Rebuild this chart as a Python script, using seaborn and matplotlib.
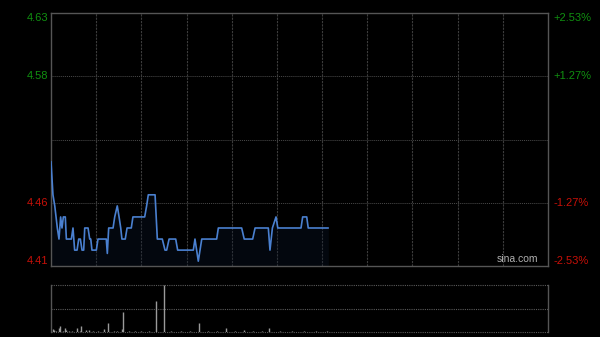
import numpy as np
import pandas as pd
import matplotlib
matplotlib.use("Agg")
import matplotlib.pyplot as plt
import seaborn as sns

# ---------------- data ----------------
prev_close = 4.52
pct_range = 2.53
session_minutes = 330  # HK: 9:30-12:00, 13:00-16:00

price_minutes = [0, 1.3, 2.5, 4.2, 5.3, 6.4, 7.3, 8.2, 9.5, 10.2, 13.5, 14.6, 15.7, 17.3,
                 18.4, 19.5, 20.6, 21.7, 22.4, 24.6, 25.7, 26.4, 27.2, 30.1, 31.2, 36.7,
                 37.4, 38.3, 41.2, 42.3, 44.0, 45.2, 46.3, 47.1, 49.3, 50.5, 53.3, 54.4,
                 62.2, 63.5, 64.6, 69.1, 70.6, 73.9, 75.7, 76.8, 78.4, 82.8, 84.1, 94.5,
                 95.6, 97.8, 100.1, 110.0, 111.1, 126.6, 128.3, 133.9, 135.5, 144.3, 145.4,
                 147.0, 149.4, 150.6, 166.0, 167.1, 169.8, 170.8, 184.1]
prices = [4.50, 4.47, 4.46, 4.44, 4.43, 4.45, 4.44, 4.45, 4.45, 4.43, 4.43, 4.44, 4.42, 4.42,
          4.43, 4.43, 4.42, 4.42, 4.44, 4.44, 4.43, 4.43, 4.42, 4.42, 4.43, 4.43,
          4.417, 4.44, 4.44, 4.45, 4.46, 4.45, 4.44, 4.43, 4.43, 4.44, 4.44, 4.45,
          4.45, 4.46, 4.47, 4.47, 4.43, 4.43, 4.42, 4.42, 4.43, 4.43, 4.42, 4.42,
          4.43, 4.41, 4.43, 4.43, 4.44, 4.44, 4.43, 4.43, 4.44, 4.44, 4.42,
          4.44, 4.45, 4.44, 4.44, 4.45, 4.45, 4.44, 4.44]

vol_minutes = [1, 2, 3, 5, 6, 8, 9, 10, 12, 14, 17, 19, 20, 23, 25, 28, 31, 35, 38, 42, 44,
               47, 48, 52, 56, 60, 65, 70, 75, 80, 86, 92, 98, 104, 110, 116, 122, 128,
               134, 140, 145, 152, 160, 168, 176, 183]
vol_values = [3, 2, 1, 4, 6, 1, 4, 2, 1, 1, 4, 1, 6, 2, 2, 1, 1, 3, 9.5, 1.5, 1,
              3, 20, 1, 1, 1, 1, 31, 47, 1, 1, 1, 9.5, 1, 1, 4.5, 1, 2,
              1, 1, 4.5, 1, 1, 1, 1, 1]

left_labels = ["4.63", "4.58", "4.46", "4.41"]
right_labels = ["+2.53%", "+1.27%", "-1.27%", "-2.53%"]

# ---------------- style ----------------
sns.set_theme(style="dark")
plt.rcParams["font.family"] = ["Liberation Sans", "DejaVu Sans"]

bg = "#000000"
line_c = "#4a80d0"
grid_c = "#4a4a4a"
spine_c = "#555555"
green = "#109010"
red = "#c81008"

fig = plt.figure(figsize=(6.0, 3.37), dpi=100, facecolor=bg)
ax = fig.add_axes([51 / 600, 1 - 266 / 337, 497 / 600, 253 / 337])
axv = fig.add_axes([51 / 600, 1 - 332 / 337, 497 / 600, 47 / 337])

hi = prev_close * (1 + pct_range / 100)
lo = prev_close * (1 - pct_range / 100)
q3 = prev_close * (1 + pct_range / 200)
q1 = prev_close * (1 - pct_range / 200)

df = pd.DataFrame({"minute": price_minutes, "price": prices})

for a in (ax, axv):
    a.set_facecolor(bg)
    a.set_xlim(0, session_minutes)

# price area fill
ax.fill_between(df["minute"], df["price"], lo, color="#0c1a30", alpha=0.3, lw=0, zorder=1)
sns.lineplot(data=df, x="minute", y="price", ax=ax, color=line_c, lw=1.2,
             estimator=None, sort=False, zorder=3)
ax.set_ylim(lo, hi)

# grid
ax.set_xticks(np.arange(30, session_minutes, 30))
ax.tick_params(axis="x", length=0, labelbottom=False)
ax.grid(axis="x", color="#3c3c3c", ls=(0, (2, 1)), lw=0.8)
ax.grid(axis="y", visible=False)
for yv in (q3, prev_close, q1):
    ax.axhline(yv, color=grid_c, ls=(0, (1, 1)), lw=0.7, zorder=0)
ax.set_xlabel("")
ax.set_ylabel("")

for s in ax.spines.values():
    s.set_visible(True)
    s.set_color(spine_c)
    s.set_linewidth(1)

# left labels
ax.set_yticks([hi, q3, q1, lo])
ax.set_yticklabels(left_labels)
ax.tick_params(axis="y", length=0, pad=2.2, labelsize=8)
for lab, c, va in zip(ax.get_yticklabels(), [green, green, red, red],
                      ["top", "center", "center", "bottom"]):
    lab.set_color(c)
    lab.set_va(va)

# right labels
ax2 = ax.twinx()
ax2.set_ylim(lo, hi)
ax2.set_yticks([hi, q3, q1, lo])
ax2.set_yticklabels(right_labels)
ax2.tick_params(axis="y", length=0, pad=3.6, labelsize=8)
ax2.grid(False)
for s in ax2.spines.values():
    s.set_visible(False)
for lab, c, va in zip(ax2.get_yticklabels(), [green, green, red, red],
                      ["top", "center", "center", "bottom"]):
    lab.set_color(c)
    lab.set_va(va)

ax.text(0.98, 0.008, "sina.com", transform=ax.transAxes, ha="right", va="bottom",
        color="#b0b0b0", fontsize=7.5, zorder=5)

# volume
vmax = max(vol_values)
axv.vlines(vol_minutes, 0, vol_values, color="#9a9a9a", lw=1)
axv.set_ylim(0, vmax)
axv.set_xticks([])
axv.set_yticks([])
axv.grid(False)
for yv in (0, vmax / 2, vmax):
    axv.axhline(yv, color="#5a5a5a", ls=(0, (1, 1)), lw=0.8, zorder=0, clip_on=False)
for k, s in axv.spines.items():
    if k in ("left", "right"):
        s.set_visible(True)
        s.set_color(spine_c)
        s.set_linewidth(1)
    else:
        s.set_visible(False)

fig.savefig("out.png", dpi=100, facecolor=bg)
